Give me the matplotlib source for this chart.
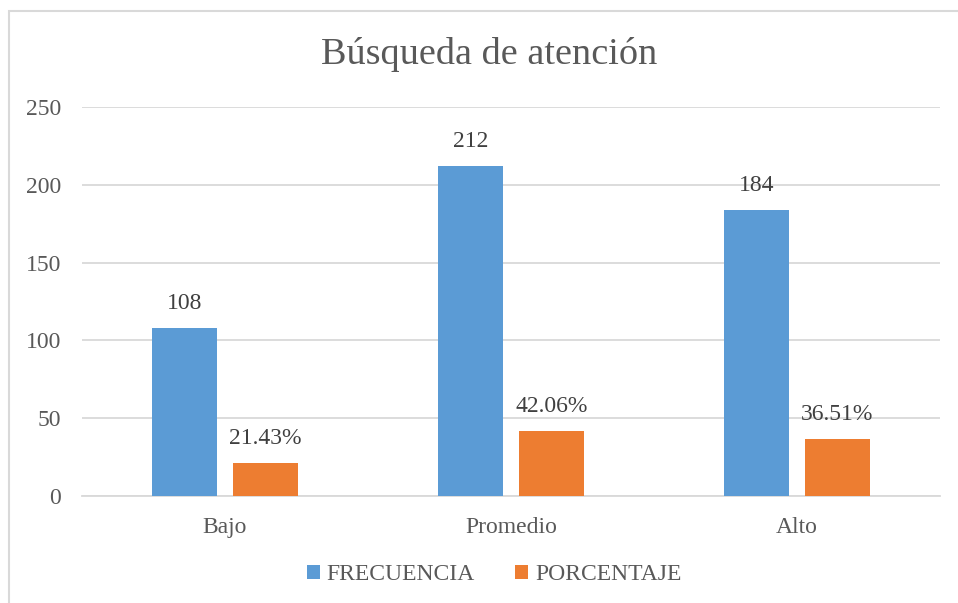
import numpy as np
import matplotlib.pyplot as plt
from matplotlib.patches import Rectangle

categorias = ['Bajo', 'Promedio', 'Alto']
frecuencia = [108, 212, 184]
porcentaje = [21.43, 42.06, 36.51]
yticks = [0, 50, 100, 150, 200, 250]

plt.rcParams['font.family'] = ['Liberation Serif', 'DejaVu Serif']
txt = '#595959'
azul = '#5B9BD5'
naranja = '#ED7D31'

fig = plt.figure(figsize=(9.58, 6.03), dpi=100)
ax = fig.add_axes([82/958, 1 - 496/603, 858/958, 389/603])

# borde del grafico
fig.patches.append(Rectangle((9/958, -0.1), 1.1, 1 - 11/603 + 0.1, transform=fig.transFigure,
                             fill=False, edgecolor='#D9D9D9', linewidth=1.5))

x = np.arange(len(categorias))
w = 0.224
off = 0.1416
b1 = ax.bar(x - off, frecuencia, w, color=azul, label='FRECUENCIA', zorder=3)
b2 = ax.bar(x + off, porcentaje, w, color=naranja, label='PORCENTAJE', zorder=3)

for r, v in zip(b1, frecuencia):
    ax.text(r.get_x() + r.get_width()/2, v + 9, str(v), ha='center', va='bottom',
            fontsize=17, color='#404040')
for r, v in zip(b2, porcentaje):
    ax.text(r.get_x() + r.get_width()/2, v + 9, f'{v:.2f}%', ha='center', va='bottom',
            fontsize=17, color='#404040')

ax.set_xlim(-0.5, 2.5)
ax.set_ylim(0, 250)
ax.set_yticks(yticks)
ax.set_xticks(x)
ax.set_xticklabels(categorias)
ax.tick_params(axis='both', length=0, labelsize=17, labelcolor=txt)
ax.tick_params(axis='y', pad=15)
ax.tick_params(axis='x', pad=15)
ax.grid(axis='y', color='#D9D9D9', linewidth=1.3, zorder=0)
for s in ['top', 'right', 'left']:
    ax.spines[s].set_visible(False)
ax.spines['bottom'].set_color('#D9D9D9')
ax.spines['bottom'].set_linewidth(1.3)

fig.text(489/958, 1 - 55/603, 'Búsqueda de atención', ha='center', va='center',
         fontsize=27.5, color=txt)

leg = fig.legend(loc='center', bbox_to_anchor=(494/958, 1 - 575/603), ncol=2, frameon=False,
                 fontsize=17, handlelength=0.55, handleheight=0.55, handletextpad=0.3,
                 columnspacing=1.7, labelcolor=txt)

fig.savefig('out.png', dpi=100)
